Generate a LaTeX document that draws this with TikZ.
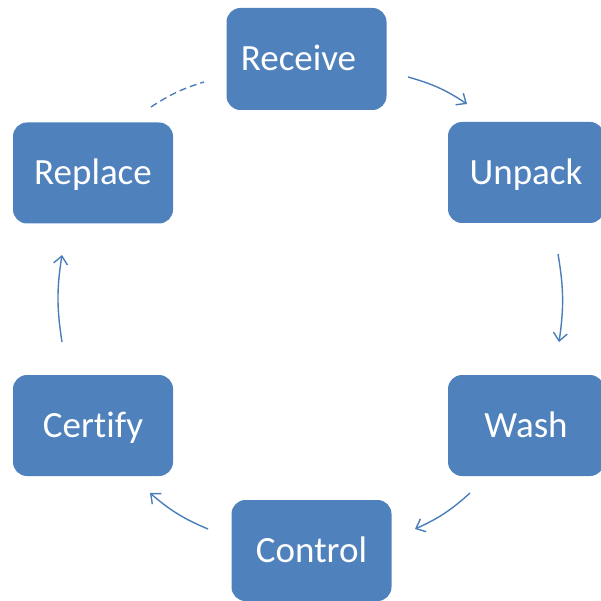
\documentclass[tikz,border=0pt]{standalone}
\usepackage{fontspec}
\setmainfont{Carlito}[Ligatures=NoCommon]
\usetikzlibrary{arrows.meta}
\definecolor{boxblue}{HTML}{4F81BD}
\definecolor{linkblue}{HTML}{4A7EBB}
\begin{document}
\begin{tikzpicture}[x=1pt,y=-1pt,
  stage/.style={fill=boxblue, rounded corners=14pt, minimum width=160pt,
    minimum height=101pt, inner sep=0pt, text=white,
    font=\fontsize{37}{41}\selectfont, text height=23.8pt, text depth=0pt},
  flow/.style={draw=linkblue, line width=1.4pt,
    -{Straight Barb[length=8pt,width=14pt]}},
  link/.style={draw=linkblue, line width=1.4pt, dash pattern=on 7pt off 4pt}]
\useasboundingbox (0,0) rectangle (601,601);

% process stages
\node[stage, minimum height=102pt] (rec) at (306.5,59) {Receive\kern16pt};
\node[stage, minimum width=156pt] (unp) at (526,172.5) {Unpack};
\node[stage, minimum width=156pt] (wash) at (526,425.5) {Wash};
\node[stage] (ctl) at (311.5,550.5) {Control};
\node[stage] (cert) at (93,425.5) {Certify};
\node[stage] (repl) at (93,173) {Replace};

% end points of the cycle arrows
\coordinate (a1s) at (408,77);  \coordinate (a1e) at (467,104);
\coordinate (a2s) at (558,254); \coordinate (a2e) at (559,342);
\coordinate (a3s) at (470,493); \coordinate (a3e) at (415,529);
\coordinate (a4s) at (208,529); \coordinate (a4e) at (150,493);
\coordinate (a5s) at (62,342);  \coordinate (a5e) at (62,255);
\coordinate (a6s) at (151,107); \coordinate (a6e) at (204,82);

% cycle arrows
\draw[flow] (a1s) to[bend left=9] (a1e);
\draw[flow] (a2s) to[bend left=9] (a2e);
\draw[flow] (a3s) to[bend left=9] (a3e);
\draw[flow] (a4s) to[bend left=9] (a4e);
\draw[flow] (a5s) to[bend left=9] (a5e);
\draw[link] (a6s) to[bend left=8] (a6e);
\end{tikzpicture}
\end{document}
